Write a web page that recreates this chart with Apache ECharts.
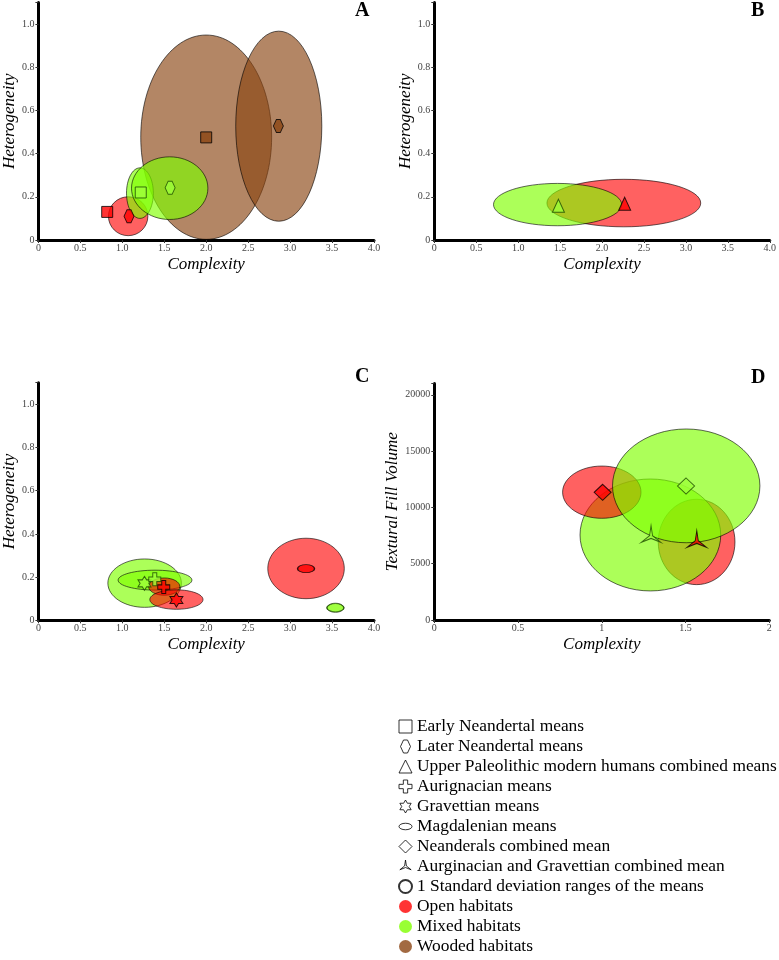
<!DOCTYPE html>
<html>
<head>
<meta charset="utf-8">
<script src="https://cdn.jsdelivr.net/npm/echarts@6/dist/echarts.min.js"></script>
<style>
html, body { margin: 0; padding: 0; background: #fff; }
#chart { width: 779px; height: 960px; }
</style>
</head>
<body>
<div id="chart"></div>
<script>
// habitat colours
var HAB = { open: '#ff0000', mixed: '#7fff00', wooded: '#8b4513' };
var HAB_ALPHA = { open: 0.62, mixed: 0.65, wooded: 0.65 };

// 1 SD ellipses: [mean x, mean y, sd x, sd y, habitat] (drawn in this order)
var ellipsesA = [
    [2.0, 0.476, 0.78, 0.473, 'wooded'],
    [2.865, 0.527, 0.513, 0.44, 'wooded'],
    [1.07, 0.11, 0.235, 0.09, 'open'],
    [1.21, 0.217, 0.16, 0.117, 'mixed'],
    [1.565, 0.24, 0.455, 0.145, 'mixed']
];
var ellipsesB = [
    [2.26, 0.171, 0.917, 0.11, 'open'],
    [1.47, 0.164, 0.764, 0.098, 'mixed']
];
var ellipsesC = [
    [1.266, 0.172, 0.438, 0.112, 'mixed'],
    [1.39, 0.186, 0.44, 0.046, 'mixed'],
    [3.54, 0.058, 0.1, 0.021, 'mixed'],
    [1.5, 0.156, 0.186, 0.04, 'open'],
    [1.645, 0.096, 0.317, 0.045, 'open'],
    [3.19, 0.24, 0.456, 0.14, 'open']
];
var ellipsesD = [
    [1.566, 6930, 0.229, 3790, 'open'],
    [1.29, 7550, 0.42, 4970, 'mixed'],
    [1.0, 11350, 0.234, 2320, 'open'],
    [1.504, 11910, 0.44, 5050, 'mixed']
];

// means: [x, y, marker, habitat]
var meansA = [
    [0.82, 0.13, 'square', 'open'],
    [1.08, 0.11, 'hexagon', 'open'],
    [1.22, 0.22, 'square', 'mixed'],
    [1.57, 0.242, 'hexagon', 'mixed'],
    [2.0, 0.475, 'square', 'wooded'],
    [2.86, 0.528, 'hexagon', 'wooded']
];
var meansB = [
    [1.48, 0.159, 'triangle', 'mixed'],
    [2.27, 0.168, 'triangle', 'open']
];
var meansC = [
    [1.264, 0.171, 'star', 'mixed'],
    [1.387, 0.19, 'plus', 'mixed'],
    [1.494, 0.154, 'plus', 'open'],
    [1.645, 0.094, 'star', 'open'],
    [3.19, 0.239, 'oval', 'open'],
    [3.54, 0.058, 'oval', 'mixed']
];
var meansD = [
    [1.005, 11340, 'diamond', 'open'],
    [1.503, 11900, 'diamond', 'mixed'],
    [1.294, 7400, 'tristar', 'mixed'],
    [1.567, 6955, 'tristar', 'open']
];

var legendNames = [
    'Early Neandertal means',
    'Later Neandertal means',
    'Upper Paleolithic modern humans combined means',
    'Aurignacian means',
    'Gravettian means',
    'Magdalenian means',
    'Neanderals combined mean',
    'Aurginacian and Gravettian combined mean',
    '1 Standard deviation ranges of the means',
    'Open habitats',
    'Mixed habitats',
    'Wooded habitats'
];
var legendMarkers = ['square', 'hexagon', 'triangle', 'plus', 'star', 'oval', 'diamond', 'tristar', 'sd', 'open', 'mixed', 'wooded'];

var SYM = {
    square: 'rect',
    hexagon: 'path://M3,0 L7,0 L10,6.5 L7,13 L3,13 L0,6.5 Z',
    triangle: 'triangle',
    plus: 'path://M4,0 L8,0 L8,4 L12,4 L12,8 L8,8 L8,12 L4,12 L4,8 L0,8 L0,4 L4,4 Z',
    star: 'path://M50,0 L64.43,25 L93.3,25 L78.87,50 L93.3,75 L64.43,75 L50,100 L35.57,75 L6.7,75 L21.13,50 L6.7,25 L35.57,25 Z',
    oval: 'circle',
    diamond: 'diamond',
    tristar: 'path://M50,100 M50,0 L56.93,46 L93.3,75 L50,58 L6.7,75 L43.07,46 Z'
};
var SIZE = {
    square: 11, hexagon: [10, 13], triangle: [12, 13], plus: [12, 13], star: [13, 14],
    oval: [17, 8], diamond: [17, 16], tristar: [19, 22]
};

var serif = "'Liberation Serif', 'Times New Roman', serif";

function rgba(hex, a) {
    var n = parseInt(hex.slice(1), 16);
    return 'rgba(' + (n >> 16) + ',' + ((n >> 8) & 255) + ',' + (n & 255) + ',' + a + ')';
}

function ellipseSeries(list, idx) {
    return {
        type: 'custom',
        xAxisIndex: idx,
        yAxisIndex: idx,
        z: 2,
        encode: { x: 0, y: 1 },
        data: list.map(function (e) { return [e[0], e[1], e[2], e[3]]; }),
        renderItem: function (params, api) {
            var hab = list[params.dataIndex][4];
            var c = api.coord([api.value(0), api.value(1)]);
            var s = api.size([api.value(2), api.value(3)]);
            return {
                type: 'ellipse',
                shape: { cx: c[0], cy: c[1], rx: s[0], ry: s[1] },
                style: { fill: rgba(HAB[hab], HAB_ALPHA[hab]), stroke: 'rgba(0,0,0,0.6)', lineWidth: 1 }
            };
        }
    };
}

function meanSeries(list, idx) {
    return {
        type: 'scatter',
        xAxisIndex: idx,
        yAxisIndex: idx,
        z: 3,
        data: list.map(function (m) {
            return {
                value: [m[0], m[1]],
                symbol: SYM[m[2]],
                symbolSize: SIZE[m[2]],
                itemStyle: {
                    color: m[3] === 'mixed' ? '#9dff3a' : HAB[m[3]],
                    borderColor: m[3] === 'mixed' ? '#1d4a00' : '#000',
                    borderWidth: 1
                }
            };
        })
    };
}

function fmt1(v) { return v === 0 ? '0' : (v > 1.05 ? '' : v.toFixed(1)); }
function fmtX(v) { return v === 0 ? '0' : v.toFixed(1); }

var grids = [
    { left: 37.7, top: 2.4, width: 336.3, height: 237.6 },
    { left: 434.3, top: 2.4, width: 336.7, height: 237.6 },
    { left: 37.7, top: 382.7, width: 336.3, height: 237.6 },
    { left: 434.3, top: 383.5, width: 335, height: 236.5 }
];

function xAxis(idx, max, interval, formatter) {
    return {
        gridIndex: idx, type: 'value', min: 0, max: max, interval: interval,
        name: 'Complexity', nameLocation: 'middle', nameGap: 16,
        nameTextStyle: { fontFamily: serif, fontStyle: 'italic', fontSize: 17, color: '#000' },
        axisLine: { lineStyle: { color: '#000', width: 3 } },
        axisTick: { length: 3, lineStyle: { color: '#333', width: 1 } },
        axisLabel: { fontFamily: serif, fontSize: 10, color: '#444', margin: 3, formatter: formatter },
        splitLine: { show: false }
    };
}
function yAxis(idx, name, max, interval, formatter, gap) {
    return {
        gridIndex: idx, type: 'value', min: 0, max: max, interval: interval,
        name: name, nameLocation: 'middle', nameGap: gap,
        nameTextStyle: { fontFamily: serif, fontStyle: 'italic', fontSize: 17, color: '#000' },
        axisLine: { lineStyle: { color: '#000', width: 3 } },
        axisTick: { length: 3, lineStyle: { color: '#333', width: 1 } },
        axisLabel: { fontFamily: serif, fontSize: 10, color: '#444', margin: 4, formatter: formatter },
        splitLine: { show: false }
    };
}

var legendData = legendNames.map(function (name, i) {
    var k = legendMarkers[i];
    var item = { name: name };
    if (k === 'sd') {
        item.icon = 'circle';
        item.itemStyle = { color: 'transparent', borderColor: '#000', borderWidth: 2 };
    } else if (HAB[k]) {
        item.icon = 'circle';
        item.itemStyle = { color: HAB[k], borderWidth: 0 };
    } else {
        item.icon = k === 'oval' ? 'path://M0,0 M14,14 M0,7 A7,3.5 0 1 0 14,7 A7,3.5 0 1 0 0,7 Z'
            : (k === 'square' ? 'rect' : SYM[k]);
        item.itemStyle = { color: 'transparent', borderColor: '#000', borderWidth: 1 };
    }
    return item;
});

var legendSeries = legendNames.map(function (name) {
    return { type: 'scatter', name: name, xAxisIndex: 0, yAxisIndex: 0, data: [] };
});

var chart = echarts.init(document.getElementById('chart'));
var option = {
    animation: false,
    backgroundColor: '#fff',
    title: [
        { text: 'A', left: 355, top: 1, padding: 0, textStyle: { fontFamily: serif, fontSize: 20, fontWeight: 'bold', color: '#000' } },
        { text: 'B', left: 751, top: 1, padding: 0, textStyle: { fontFamily: serif, fontSize: 20, fontWeight: 'bold', color: '#000' } },
        { text: 'C', left: 355, top: 367, padding: 0, textStyle: { fontFamily: serif, fontSize: 20, fontWeight: 'bold', color: '#000' } },
        { text: 'D', left: 751, top: 368, padding: 0, textStyle: { fontFamily: serif, fontSize: 20, fontWeight: 'bold', color: '#000' } }
    ],
    legend: {
        orient: 'vertical', left: 398, top: 718, padding: 0,
        itemWidth: 13, itemHeight: 13, itemGap: 3,
        selectedMode: false,
        textStyle: { fontFamily: serif, fontSize: 17.4, color: '#000', lineHeight: 17 },
        data: legendData
    },
    grid: grids,
    xAxis: [
        xAxis(0, 4, 0.5, fmtX),
        xAxis(1, 4, 0.5, fmtX),
        xAxis(2, 4, 0.5, fmtX),
        xAxis(3, 2, 0.5, null)
    ],
    yAxis: [
        yAxis(0, 'Heterogeneity', 1.1, 0.2, fmt1, 19),
        yAxis(1, 'Heterogeneity', 1.1, 0.2, fmt1, 19),
        yAxis(2, 'Heterogeneity', 1.1, 0.2, fmt1, 19),
        yAxis(3, 'Textural Fill Volume', 21000, 5000, function (v) { return v > 20000 ? '' : String(v); }, 26)
    ],
    series: [
        ellipseSeries(ellipsesA, 0), meanSeries(meansA, 0),
        ellipseSeries(ellipsesB, 1), meanSeries(meansB, 1),
        ellipseSeries(ellipsesC, 2), meanSeries(meansC, 2),
        ellipseSeries(ellipsesD, 3), meanSeries(meansD, 3)
    ].concat(legendSeries)
};
chart.setOption(option);
</script>
</body>
</html>
